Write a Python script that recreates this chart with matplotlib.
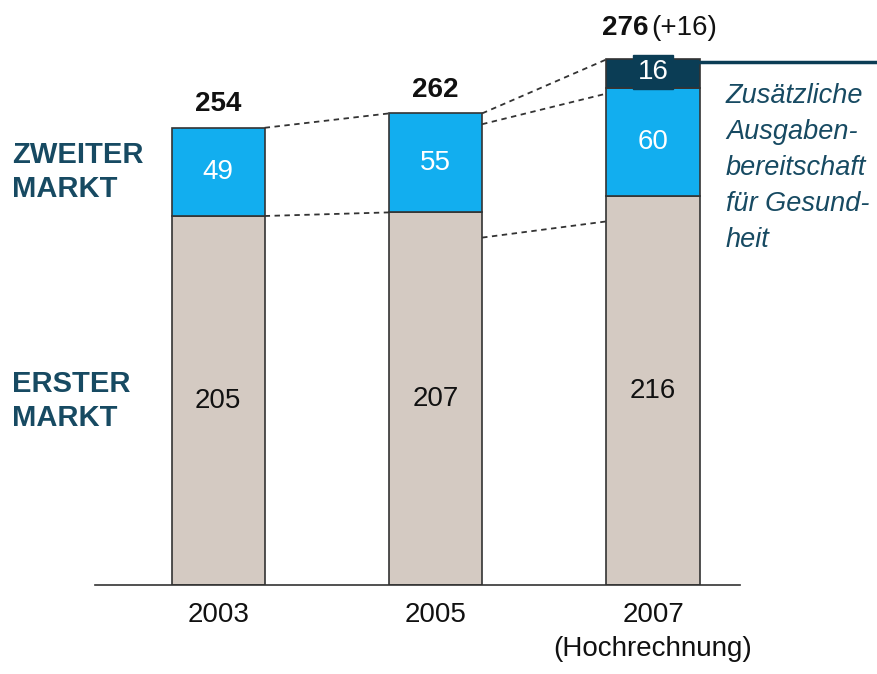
import matplotlib
matplotlib.use("Agg")
import matplotlib.pyplot as plt
from matplotlib import font_manager

# ---- data ----
years = ["2003", "2005", "2007\n(Hochrechnung)"]
erster = [205, 207, 216]
zweiter = [49, 55, 60]
extra = [0, 0, 16]
totals = [254, 262, 276]

names = {f.name for f in font_manager.fontManager.ttflist}
fam = "Liberation Sans Narrow" if "Liberation Sans Narrow" in names else "Liberation Sans"
plt.rcParams['font.family'] = [fam, 'DejaVu Sans']

W, H = 878, 674
fig = plt.figure(figsize=(W / 100, H / 100), dpi=100)
ax_l, ax_r, ax_b, ax_t = 95, 740, 585, 0
ax = fig.add_axes([ax_l / W, 1 - ax_b / H, (ax_r - ax_l) / W, (ax_b - ax_t) / H])
px_per_unit = 1.8
ax.set_ylim(0, (ax_b - ax_t) / px_per_unit)
ax.set_xlim(-0.566, 2.40)
for s in ["left", "right", "top"]:
    ax.spines[s].set_visible(False)
ax.spines["bottom"].set_color("#333333")
ax.spines["bottom"].set_linewidth(1.2)
ax.set_yticks([])
ax.tick_params(axis="x", length=0, pad=12)

x = list(range(len(years)))
wdt = 0.428
c_gray, c_blue, c_dark = "#D4CAC2", "#12AEEF", "#0B3D55"
edge = "#333333"
ax.bar(x, erster, wdt, color=c_gray, edgecolor=edge, linewidth=1.2, zorder=2)
ax.bar(x, zweiter, wdt, bottom=erster, color=c_blue, edgecolor=edge, linewidth=1.2, zorder=2)
b3 = [e + z for e, z in zip(erster, zweiter)]
ax.bar([2], [extra[2]], wdt, bottom=[b3[2]], color=c_dark, edgecolor=edge, linewidth=1.2, zorder=2)

ax.set_xticks(x)
ax.set_xticklabels(years, fontsize=20, color="#111111", linespacing=1.4)

for i in x:
    ax.text(i, erster[i] / 2, str(erster[i]), ha="center", va="center", fontsize=20, color="#111111", zorder=3)
    ax.text(i, erster[i] + zweiter[i] / 2, str(zweiter[i]), ha="center", va="center", fontsize=20, color="white", zorder=3)

# totals
for i in [0, 1]:
    ax.text(i, totals[i] + 6, str(totals[i]), ha="center", va="bottom", fontsize=20, fontweight="bold", color="#111111")
top7 = b3[2] + extra[2]
ax.text(1.98, top7 + 10, str(totals[2]), ha="right", va="bottom", fontsize=20, fontweight="bold", color="#111111")
ax.text(1.99, top7 + 10, f"(+{extra[2]})", ha="left", va="bottom", fontsize=20, color="#111111")

# extra label box
ax.text(2, b3[2] + extra[2] / 2 + 1, str(extra[2]), ha="center", va="center", fontsize=20, color="white", zorder=4,
        bbox=dict(boxstyle="square,pad=0.15", facecolor=c_dark, edgecolor=c_dark))

# connecting dashed lines
dash = dict(color="#333333", linestyle=(0, (3, 2.5)), linewidth=1.3, zorder=1)
h = wdt / 2
ax.plot([0 + h, 1 - h], [totals[0], totals[1]], **dash)
ax.plot([0 + h, 1 - h], [erster[0], erster[1]], **dash)
ax.plot([1 + h, 2 - h], [totals[1], top7], **dash)
ax.plot([1 + h, 2 - h], [totals[1] - 6, totals[2] - 3], **dash)
ax.plot([1 + h, 2 - h], [erster[1] - 14, erster[2] - 14], **dash)

# horizontal line to right edge
ax.plot([2 + h, 3.1], [top7 - 1.5, top7 - 1.5], color=c_dark, linewidth=2.5, clip_on=False, zorder=3)

# annotation text
lab = "#174A62"
fig.text(726 / W, 1 - 83 / H, "Zusätzliche\nAusgaben-\nbereitschaft\nfür Gesund-\nheit", ha="left", va="top",
         fontsize=19.5, style="italic", color=lab, linespacing=1.5)

fig.text(12 / W, 1 - 172 / H, "ZWEITER\nMARKT", ha="left", va="center", fontsize=21, fontweight="bold",
         color=lab, linespacing=1.25)
fig.text(12 / W, 1 - 401 / H, "ERSTER\nMARKT", ha="left", va="center", fontsize=21, fontweight="bold",
         color=lab, linespacing=1.25)

fig.savefig("out.png", dpi=100, facecolor="white")
